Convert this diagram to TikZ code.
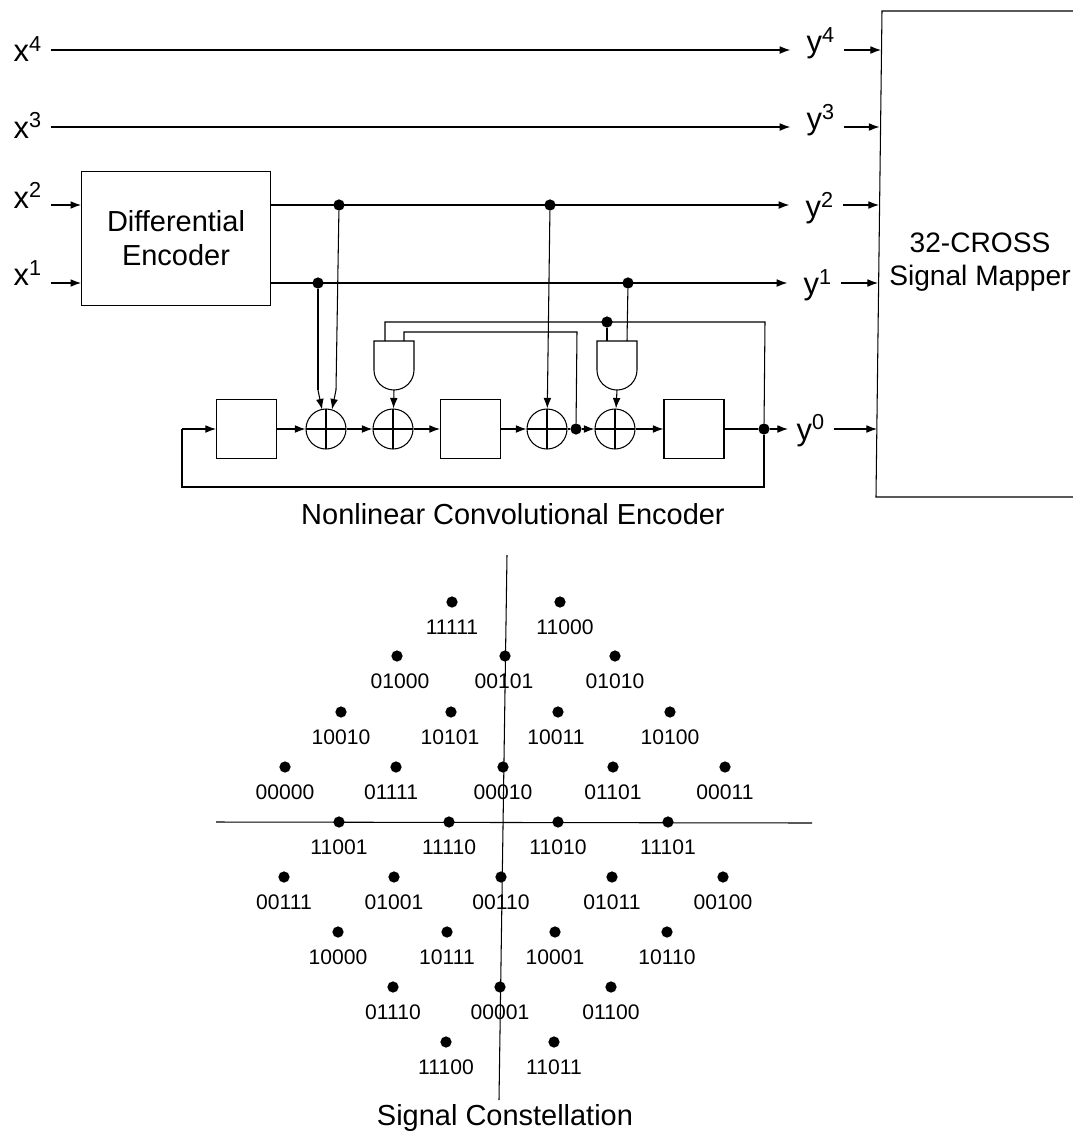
\documentclass[tikz,border=0pt]{standalone}
\usepackage{fontspec}
\setmainfont{Liberation Sans}
\usetikzlibrary{arrows.meta,positioning,calc}
\tikzset{
  sig/.style={line width=.75pt,-{Latex[length=7.5pt,width=5.5pt]}},
  toy/.style={sig,shorten >=5.5pt},
  wire/.style={line width=.75pt},
  sigtext/.style={font=\fontsize{22}{22}\selectfont,inner xsep=6pt,inner ysep=0pt,text depth=0pt},
  bigtext/.style={font=\fontsize{20.6}{24}\selectfont,align=center},
  bitstext/.style={font=\fontsize{15}{15}\selectfont,inner sep=0pt},
  regbox/.style={draw,line width=.75pt,minimum width=1.5cm,minimum height=1.48cm,inner sep=0pt},
  xorgate/.style={circle,draw,line width=.75pt,minimum size=1cm,inner sep=0pt,
    path picture={\draw[line width=.75pt] (path picture bounding box.north)--(path picture bounding box.south)
      (path picture bounding box.west)--(path picture bounding box.east);}},
  tapdot/.style={circle,fill=black,inner sep=0pt,minimum size=8pt},
  ptdot/.style={circle,fill=black,inner sep=0pt,minimum size=8pt},
}
\begin{document}
\begin{tikzpicture}[x=.025cm,y=-.025cm]
\useasboundingbox[fill=white] (0,0) rectangle (1073,1134);
\foreach \n/\y/\h in {4/50/17,3/127/16,2/205/5,1/283/4}{\node[sigtext,text height=\h pt,anchor=west] (x\n) at (5,\y){x\textsuperscript{\n}};}
\foreach \n/\lx/\y/\h in {4/798/50/4,3/798/127/4,2/797/205/18,1/795/283/17,0/788/429/16}{\node[sigtext,text height=\h pt,anchor=west] (y\n) at (\lx,\y){y\textsuperscript{\n}};}
\node[draw,line width=.75pt,minimum width=4.72cm,minimum height=3.37cm,bigtext] (diff) at (176,238.5){Differential\\Encoder};
\coordinate (maptop) at (882,11);
\coordinate (mapbot) at (876,497);
\draw[wire] (1073,11)--(maptop)--(mapbot)--(1073,497);
\node[bigtext,font=\fontsize{20}{23}\selectfont] (mapper) at (980,262){32-CROSS\\Signal Mapper};
\node[regbox] (reg1) at (246.5,429){};
\node[regbox] (reg2) at (470.5,429){};
\node[regbox] (reg3) at (694,429){};
\node[xorgate] (xor1) at (326,429){};
\node[xorgate] (xor2) at (393,429){};
\node[xorgate] (xor3) at (547,429){};
\node[xorgate] (xor4) at (615,429){};
\node[tapdot] (t1) at (339,205){};
\node[tapdot] (t2) at (550,205){};
\node[tapdot] (t3) at (318,283){};
\node[tapdot] (t4) at (628,283){};
\node[tapdot] (t5) at (607,322){};
\node[tapdot] (t6) at (576,429){};
\node[tapdot] (t7) at (764,429){};
\foreach \g/\x in {and1/394,and2/617}{
  \draw[wire] (\x-20,341)--(\x+20,341)--(\x+20,370) arc[start angle=0,end angle=180,x radius=.5cm,y radius=-.5cm]--cycle;
  \coordinate (\g) at (\x,390);
}
\draw[toy] (x4.east)--(y4.west);
\draw[toy] (x3.east)--(y3.west);
\draw[sig] (x2.east)--(diff.west|-x2.east);
\draw[sig] (x1.east)--(diff.west|-x1.east);
\draw[toy] (diff.east|-t1)--(y2.west);
\draw[toy] (diff.east|-t3)--(y1.west);
\draw[sig] (y4.east)--(881,50);
\draw[sig] (y3.east)--(879.5,127);
\draw[sig] (y2.east)--(879,205);
\draw[sig] (y1.east)--(878,283);
\draw[sig] (y0.east)--(877,429);
\draw[wire] (t3)--(318,390);
\draw[sig] (318,390)--(322,409.5);
\draw[wire] (t1)--(336,390);
\draw[sig] (336,390)--(332,409.5);
\draw[sig] (t2)--(xor3);
\draw[sig] (reg1)--(xor1);
\draw[sig] (xor1)--(xor2);
\draw[sig] (xor2)--(reg2);
\draw[sig] (reg2)--(xor3);
\draw[wire] (xor3)--(t6);
\draw[sig] (t6)--(xor4);
\draw[sig] (xor4)--(reg3);
\draw[wire] (reg3)--(t7);
\draw[sig] (t7)--(y0.west);
\draw[sig] (and1)--(xor2);
\draw[sig] (and2)--(xor4);
\draw[wire] (385,341)--(385,322)--(765,322)--(t7);
\draw[wire] (404,341)--(404,332)--(577,332)--(t6);
\draw[wire] (t5)--(607,341);
\draw[wire] (t4)--(627,341);
\draw[wire] (t7)--(764,487)--(182,487)--(182,429);
\draw[sig] (182,429)--(reg1);
\node[bigtext] (nce) at (513,514){Nonlinear Convolutional Encoder};
\draw[wire] (507,555)--(499,1100);
\draw[wire] (216,822)--(812,823);
\foreach \x/\y/\lx/\t in {
  452/602/452/11111,560/602/565/11000,
  397/656/400/01000,505/656/504/00101,615/656/615/01010,
  341/712/341/10010,451/712/450/10101,558/712/556/10011,670/712/670/10100,
  285/767/285/00000,396/767/391/01111,503/767/503/00010,613/767/613/01101,725/767/725/00011,
  339/822/339/11001,449/822/449/11110,558/822/558/11010,668/822/668/11101,
  284/877/284/00111,394/877/394/01001,501/877/501/00110,612/877/612/01011,723/877/723/00100,
  338/932/338/10000,447/932/447/10111,555/932/555/10001,667/932/667/10110,
  393/987/393/01110,500/987/500/00001,611/987/611/01100,
  446/1042/446/11100,554/1042/554/11011}{
  \node[ptdot] (p\t) at (\x,\y){};
  \node[bitstext] (b\t) at (\lx,\y+25.5){\t};
}
\node[bigtext] (sc) at (505,1118){Signal Constellation};
\end{tikzpicture}
\end{document}
